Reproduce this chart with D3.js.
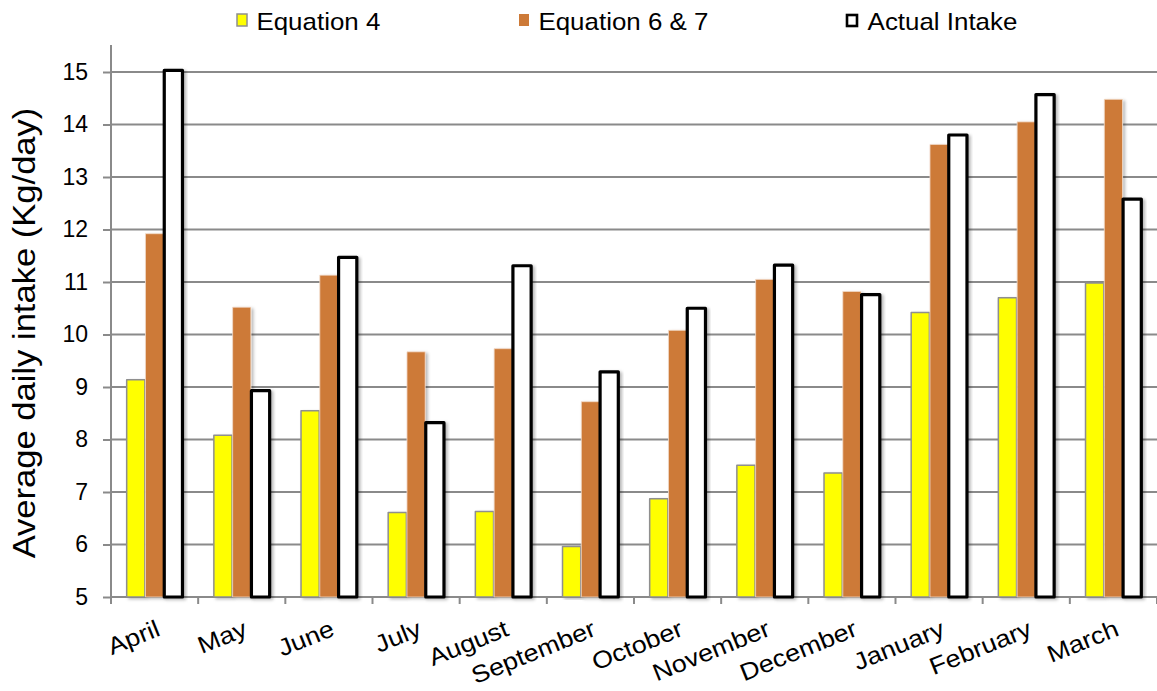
<!DOCTYPE html>
<html>
<head>
<meta charset="utf-8">
<script src="https://cdn.jsdelivr.net/npm/d3@7"></script>
<style>
  html, body { margin: 0; padding: 0; background: #fff; }
  svg { display: block; font-family: "Liberation Sans", Arial, sans-serif; }
</style>
</head>
<body>
<svg id="chart" width="1157" height="691"></svg>
<script>
// Monthly average daily intake (Kg/day): two prediction equations vs. actual intake
const months = ["April", "May", "June", "July", "August", "September",
                "October", "November", "December", "January", "February", "March"];
const seriesNames = ["Equation 4", "Equation 6 & 7", "Actual Intake"];
const equation4 = [9.14, 8.08, 8.55, 6.61, 6.63, 5.96, 6.87, 7.51, 7.36, 10.42, 10.70, 10.98];
const equation67 = [11.92, 10.52, 11.13, 9.67, 9.73, 8.72, 10.08, 11.05, 10.82, 13.62, 14.05, 14.48];
const actualIntake = [15.03, 8.93, 11.47, 8.32, 11.31, 9.29, 10.50, 11.32, 10.76, 13.80, 14.57, 12.58];
const yTicks = [5, 6, 7, 8, 9, 10, 11, 12, 13, 14, 15];

const seriesValues = [equation4, equation67, actualIntake];
const styles = [
  { fill: "#FFFF00", stroke: "#8f8f8f", width: 1.5 },
  { fill: "#CD7A38", stroke: "#f2dccb", width: 0.8 },
  { fill: "#FFFFFF", stroke: "#000000", width: 3.2 }
];

const svg = d3.select("#chart");
const plotLeft = 111, plotRight = 1157, plotTop = 72, plotBottom = 597;

const x0 = d3.scaleBand().domain(months).range([plotLeft, plotRight])
  .paddingInner(0.36).paddingOuter(0.18);
const x1 = d3.scaleBand().domain(seriesNames).range([0, x0.bandwidth()]).paddingInner(0.03);
const y = d3.scaleLinear().domain([5, 15]).range([plotBottom, plotTop]);

// soft shadow under the bars
const defs = svg.append("defs");
const f = defs.append("filter").attr("id", "shadow")
  .attr("x", "-30%").attr("y", "-5%").attr("width", "160%").attr("height", "110%");
f.append("feDropShadow").attr("dx", 2.2).attr("dy", 1.5).attr("stdDeviation", 1.4)
  .attr("flood-color", "#000").attr("flood-opacity", 0.28);

// horizontal gridlines
svg.append("g").selectAll("line").data(yTicks).join("line")
  .attr("x1", plotLeft).attr("x2", plotRight)
  .attr("y1", d => y(d)).attr("y2", d => y(d))
  .attr("stroke", "#8a8a8a").attr("stroke-width", 2);

// y axis
const yAxis = svg.append("g").attr("transform", `translate(${plotLeft},0)`)
  .call(d3.axisLeft(y).tickValues(yTicks).tickSize(8).tickSizeOuter(0).tickPadding(15));
yAxis.select(".domain").attr("stroke", "#8a8a8a").attr("stroke-width", 2)
  .attr("d", `M0,${plotTop - 27}V${plotBottom}`);
yAxis.selectAll(".tick line").attr("stroke", "#8a8a8a").attr("stroke-width", 2);
yAxis.selectAll(".tick text").attr("font-size", 23).attr("fill", "#000")
  .attr("font-family", "Liberation Sans, Arial, sans-serif");

// x axis ticks at category boundaries
const bounds = months.map(m => x0(m) - x0.step() * x0.paddingOuter()).concat([plotRight]);
svg.append("g").selectAll("line").data(bounds).join("line")
  .attr("x1", d => d).attr("x2", d => d)
  .attr("y1", plotBottom).attr("y2", plotBottom + 7)
  .attr("stroke", "#8a8a8a").attr("stroke-width", 2);

// bars
const groups = svg.append("g").selectAll("g").data(months).join("g")
  .attr("transform", m => `translate(${x0(m)},0)`);
seriesNames.forEach((s, si) => {
  groups.append("rect")
    .attr("x", x1(s))
    .attr("width", x1.bandwidth())
    .attr("y", (m, i) => y(seriesValues[si][i]))
    .attr("height", (m, i) => plotBottom - y(seriesValues[si][i]))
    .attr("fill", styles[si].fill)
    .attr("stroke", styles[si].stroke)
    .attr("stroke-width", styles[si].width)
    .attr("stroke-linejoin", "round")
    .attr("filter", "url(#shadow)");
});

// category labels
svg.append("g").selectAll("text").data(months).join("text")
  .attr("transform", m => `translate(${x0(m) + x0.bandwidth() / 2 + 7},635) rotate(-22) scale(1.12,1)`)
  .attr("text-anchor", "end")
  .attr("font-size", 24)
  .attr("fill", "#000")
  .text(m => m);

// y axis title
svg.append("text")
  .attr("transform", "translate(35,333) rotate(-90) scale(1.08,1)")
  .attr("text-anchor", "middle")
  .attr("font-size", 32)
  .attr("fill", "#000")
  .text("Average daily intake (Kg/day)");

// legend
const legendX = [237, 519, 846];
const legend = svg.append("g").selectAll("g").data(seriesNames).join("g")
  .attr("transform", (d, i) => `translate(${legendX[i]},0)`);
legend.append("rect")
  .attr("x", (d, i) => i === 2 ? 1 : 0)
  .attr("y", (d, i) => i === 2 ? 15 : 14)
  .attr("width", 10)
  .attr("height", (d, i) => i === 2 ? 11 : 12)
  .attr("fill", (d, i) => styles[i].fill)
  .attr("stroke", (d, i) => i === 0 ? "#8f8f8f" : (i === 2 ? "#000" : "none"))
  .attr("stroke-width", (d, i) => i === 2 ? 2.6 : 1.5);
legend.append("text")
  .attr("x", (d, i) => i === 2 ? 20 : 18)
  .attr("y", 30)
  .attr("font-size", 24)
  .attr("fill", "#000")
  .attr("transform", "scale(1.08,1)")
  .text(d => d);
</script>
</body>
</html>
